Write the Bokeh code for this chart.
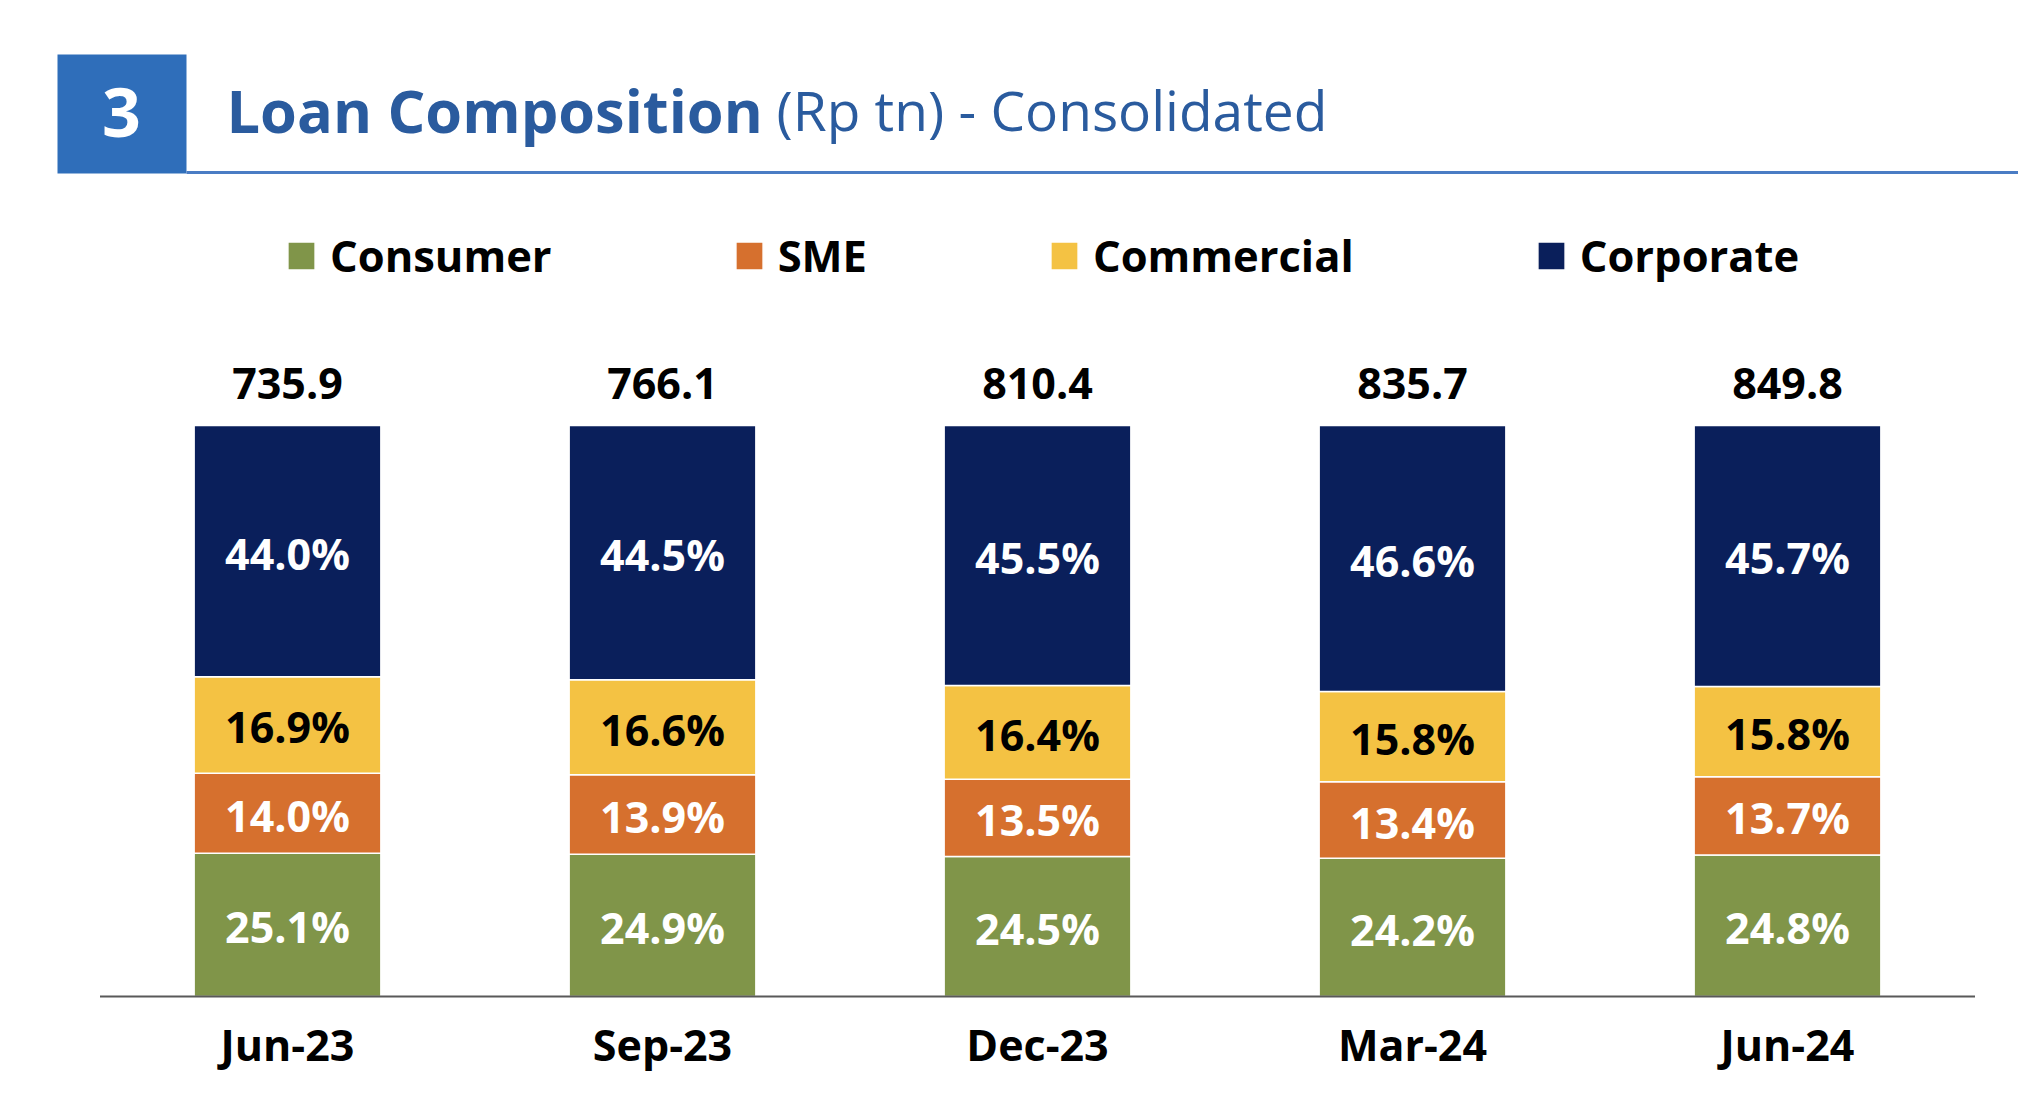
from bokeh.plotting import figure
from bokeh.models import Range1d, FixedTicker, Legend, LegendItem, ColumnDataSource
from bokeh.core.properties import value
from bokeh.embed import file_html
from bokeh.resources import INLINE

# ---------------- data ----------------
categories = ["Jun-23", "Sep-23", "Dec-23", "Mar-24", "Jun-24"]
consumer = [25.1, 24.9, 24.5, 24.2, 24.8]
sme = [14.0, 13.9, 13.5, 13.4, 13.7]
commercial = [16.9, 16.6, 16.4, 15.8, 15.8]
corporate = [44.0, 44.5, 45.5, 46.6, 45.7]
totals = [735.9, 766.1, 810.4, 835.7, 849.8]
series_names = ["Consumer", "SME", "Commercial", "Corporate"]

# ---------------- style ----------------
colors = ["#809549", "#D6702E", "#F4C243", "#0A1F5B"]
label_colors = ["white", "white", "black", "white"]
FONT = value("Open Sans")

W, H = 2018, 1092
PX_PER_CAT = 375.0
PX_PER_PCT = 5.71
BASE_Y = 996          # pixel row of the zero line
FRAME_BOTTOM = 1006
X0 = -287 / PX_PER_CAT
Y1 = BASE_Y / PX_PER_PCT
Y0 = -(FRAME_BOTTOM - BASE_Y) / PX_PER_PCT


def px2x(ix):
    return X0 + ix / PX_PER_CAT


def px2y(iy):
    return (BASE_Y - iy) / PX_PER_PCT


p = figure(width=W, height=H, output_backend="svg", toolbar_location=None,
           x_range=Range1d(X0, X0 + W / PX_PER_CAT), y_range=Range1d(Y0, Y1),
           y_axis_location=None, x_axis_location="below", title=None,
           min_border_left=0, min_border_right=0, min_border_top=0,
           min_border_bottom=H - FRAME_BOTTOM)
p.xgrid.visible = False
p.ygrid.visible = False
p.outline_line_color = None
p.background_fill_color = "white"

# ---------------- stacked bars ----------------
series = [consumer, sme, commercial, corporate]
xs = list(range(len(categories)))
sums = [sum(s[i] for s in series) for i in xs]
norm = [[s[i] / sums[i] * 100 for i in xs] for s in series]
src = ColumnDataSource(dict(x=xs, **{n: v for n, v in zip(series_names, norm)}))
renderers = p.vbar_stack(series_names, x="x", width=0.498, source=src,
                         fill_color=colors, line_color="white", line_width=1.5)

# segment labels
lx, ly, lt, lc = [], [], [], []
for i in xs:
    base = 0.0
    for k, s in enumerate(series):
        h = norm[k][i]
        lx.append(i)
        ly.append(base + h / 2)
        lt.append(f"{s[i]:.1f}%")
        lc.append(label_colors[k])
        base += h
p.text(x="x", y="y", text="t", text_color="c",
       source=ColumnDataSource(dict(x=lx, y=ly, t=lt, c=lc)),
       text_align="center", text_baseline="middle", y_offset=2, text_font=FONT,
       text_font_style="bold", text_font_size="43px")

# totals above bars
p.text(x=xs, y=[100.0] * len(xs), text=[f"{t:.1f}" for t in totals],
       text_align="center", text_baseline="middle", y_offset=-42,
       text_font=FONT, text_font_style="bold", text_font_size="43px",
       text_color="black")

# baseline
p.segment(x0=[-0.5], y0=[0], x1=[len(categories) - 0.5], y1=[0],
          line_color="#595959", line_width=2)

# x axis
ax = p.xaxis[0]
ax.ticker = FixedTicker(ticks=xs)
ax.major_label_overrides = {i: c for i, c in enumerate(categories)}
ax.axis_line_color = None
ax.major_tick_line_color = None
ax.minor_tick_line_color = None
ax.major_label_standoff = 2
ax.major_label_text_font = "Open Sans"
ax.major_label_text_font_style = "bold"
ax.major_label_text_font_size = "43px"
ax.major_label_text_color = "black"

# ---------------- legend ----------------
legend = Legend(items=[LegendItem(label=n, renderers=[r]) for n, r in zip(series_names, renderers)],
                orientation="horizontal", location=(284, 1006 - 285), spacing=180,
                glyph_width=34, glyph_height=35, label_standoff=12,
                label_text_font="Open Sans", label_text_font_style="bold",
                label_text_font_size="43.5px", label_text_color="black",
                padding=0, margin=0, border_line_color=None,
                background_fill_alpha=0)
p.add_layout(legend, "center")

# ---------------- header ----------------
p.quad(left=[px2x(57)], right=[px2x(186)], top=[px2y(54)], bottom=[px2y(173)],
       fill_color="#2F6EBA", line_color=None)
p.segment(x0=[px2x(186)], y0=[px2y(172)], x1=[px2x(2040)], y1=[px2y(172)],
          line_color="#4A7CC4", line_width=3)
p.text(x=[px2x(121)], y=[px2y(112)], text=["3"], text_align="center",
       text_baseline="middle", text_font=FONT, text_font_style="bold",
       text_font_size="68px", text_color="white")
p.text(x=[px2x(226)], y=[px2y(109)], text=["Loan Composition"], text_align="left",
       text_baseline="middle", text_font=FONT, text_font_style="bold",
       text_font_size="59.5px", text_color="#2A5B9E")
p.text(x=[px2x(776)], y=[px2y(109)], text=["(Rp tn) - Consolidated"], text_align="left",
       text_baseline="middle", text_font=FONT, text_font_style="normal",
       text_font_size="55px", text_color="#2A5B9E")

open("out.html", "w").write(file_html(p, INLINE))
